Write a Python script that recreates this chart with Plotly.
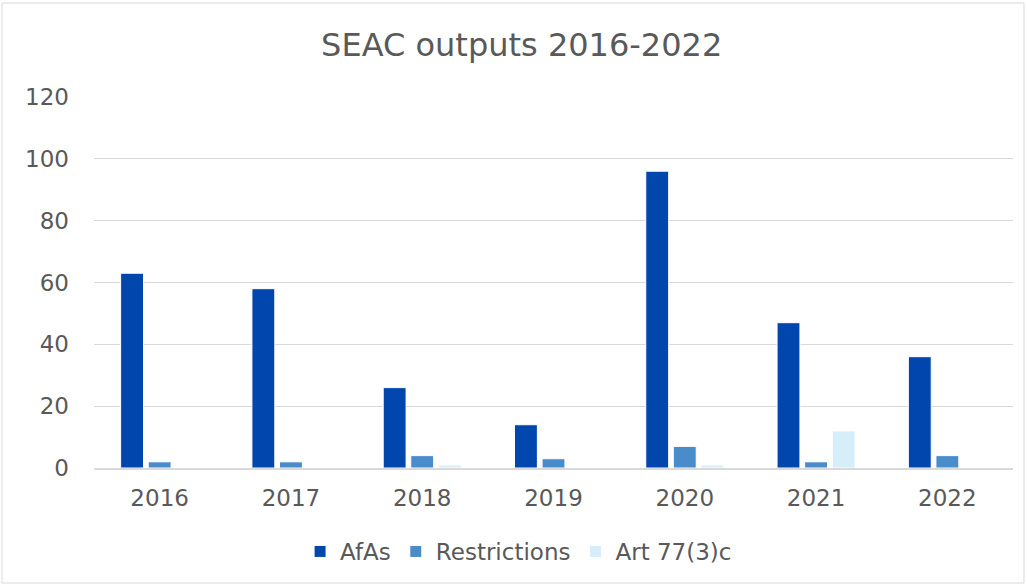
import plotly.graph_objects as go

years = ["2016", "2017", "2018", "2019", "2020", "2021", "2022"]
afas = [63, 58, 26, 14, 96, 47, 36]
restrictions = [2, 2, 4, 3, 7, 2, 4]
art77 = [0, 0, 1, 0, 1, 12, 0]

series = [("AfAs", afas, "#0046AD"), ("Restrictions", restrictions, "#4A8BC9"), ("Art 77(3)c", art77, "#D6EEFA")]

fig = go.Figure()
for name, vals, col in series:
    fig.add_trace(go.Bar(x=years, y=vals, name=name, marker=dict(color=col, line=dict(color="white", width=1))))

fig.update_layout(
    width=1027, height=586,
    margin=dict(l=94, r=14, t=97, b=118),
    paper_bgcolor="white", plot_bgcolor="white",
    font=dict(family="DejaVu Sans", color="#595959", size=23),
    title=dict(text="SEAC outputs 2016-2022", x=0.508, xanchor="center", y=0.923, yanchor="middle",
               font=dict(size=32, color="#595959")),
    barmode="group", bargap=0.37, bargroupgap=0.17,
    showlegend=True,
    legend=dict(orientation="h", x=0.462, xanchor="center", y=-0.225, yanchor="middle",
                font=dict(size=23, color="#595959"), itemwidth=30, traceorder="normal"),
    xaxis=dict(showgrid=False, showline=True, linecolor="#D9D9D9", linewidth=2, ticks="",
               ticklabelstandoff=8, tickfont=dict(size=23)),
    yaxis=dict(range=[0, 120], dtick=20, showgrid=True, gridcolor="#D9D9D9", gridwidth=1,
               zeroline=False, showline=False, ticks="", ticklabelstandoff=24, tickfont=dict(size=23)),
    shapes=[dict(type="rect", xref="paper", yref="paper", x0=(2-94)/919, x1=(1024-94)/919,
                 y0=(468-583)/371, y1=(468-3)/371, line=dict(color="#D9D9D9", width=1))],
)

fig.write_html("out.html", config={"displayModeBar": False},
               post_script="document.body.style.margin='0';")
